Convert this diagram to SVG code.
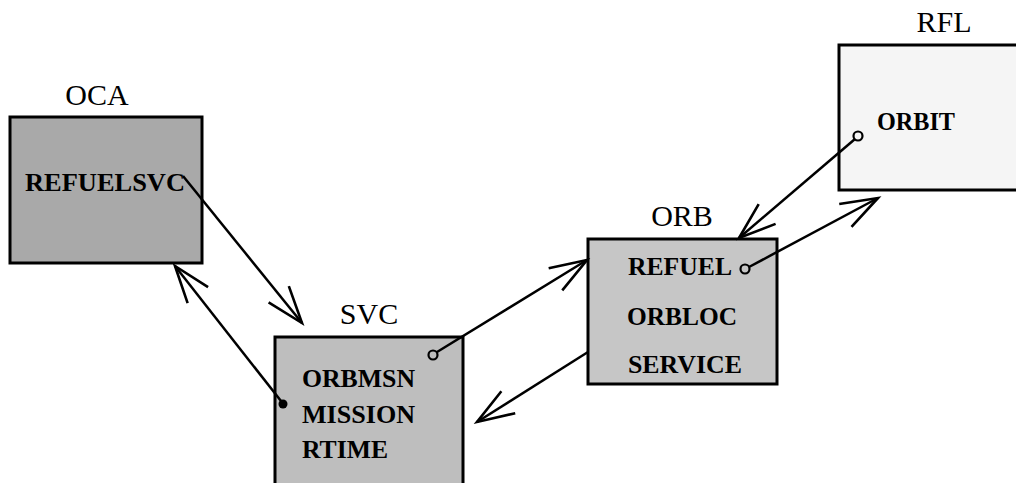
<svg xmlns="http://www.w3.org/2000/svg" width="1016" height="483" viewBox="0 0 1016 483">
<style>
.box{stroke:#000;stroke-width:3}
.title{font-family:"Liberation Serif","Times New Roman",serif;font-size:30px;fill:#000}
.item{font-family:"Liberation Serif","Times New Roman",serif;font-size:26px;font-weight:bold;fill:#000}
.conn{stroke:#000;stroke-width:2.5;fill:none;marker-end:url(#vhead)}
.port{stroke:#000;stroke-width:2.2;}
</style>
<defs>
<marker id="vhead" markerUnits="userSpaceOnUse" markerWidth="40" markerHeight="30" refX="0" refY="0" orient="auto" overflow="visible">
<path d="M-37,-13 L0,0 L-37,13" fill="none" stroke="#000" stroke-width="2.6" stroke-linejoin="miter"/>
</marker>
</defs>
<rect width="1016" height="483" fill="#fff"/>
<g id="OCA">
<text class="title" x="97" y="105" text-anchor="middle">OCA</text>
<rect class="box" x="10" y="117" width="192" height="146" fill="#a9a9a9"/>
<text class="item" x="25" y="191" textLength="160" lengthAdjust="spacingAndGlyphs">REFUELSVC</text>
</g>
<g id="SVC">
<text class="title" x="369" y="324" text-anchor="middle">SVC</text>
<rect class="box" x="275" y="337" width="188" height="170" fill="#bebebe"/>
<text class="item" x="302" y="387" textLength="113" lengthAdjust="spacingAndGlyphs">ORBMSN</text>
<text class="item" x="302" y="423" textLength="113" lengthAdjust="spacingAndGlyphs">MISSION</text>
<text class="item" x="302" y="458" textLength="86" lengthAdjust="spacingAndGlyphs">RTIME</text>
<circle class="port" cx="433" cy="355" r="4.5" fill="#bebebe"/>
<circle cx="283" cy="404" r="4.5" fill="#000"/>
</g>
<g id="ORB">
<text class="title" x="682" y="226" text-anchor="middle">ORB</text>
<rect class="box" x="588" y="239" width="189" height="145" fill="#c6c6c6"/>
<text class="item" x="628" y="275" textLength="104" lengthAdjust="spacingAndGlyphs">REFUEL</text>
<text class="item" x="627" y="325" textLength="110" lengthAdjust="spacingAndGlyphs">ORBLOC</text>
<text class="item" x="628" y="373" textLength="114" lengthAdjust="spacingAndGlyphs">SERVICE</text>
<circle class="port" cx="745" cy="269" r="4.5" fill="#c6c6c6"/>
</g>
<g id="RFL">
<text class="title" x="944" y="32" text-anchor="middle">RFL</text>
<rect class="box" x="839" y="45" width="200" height="145" fill="#f5f5f5"/>
<text class="item" x="877" y="130" textLength="78" lengthAdjust="spacingAndGlyphs">ORBIT</text>
<circle class="port" cx="858" cy="136" r="4.5" fill="#f5f5f5"/>
</g>
<g id="connectors">
<line class="conn" x1="183" y1="176" x2="302" y2="323"/>
<line class="conn" x1="281" y1="401" x2="175" y2="266"/>
<line class="conn" x1="437" y1="352" x2="587" y2="260"/>
<line class="conn" x1="588" y1="352" x2="477" y2="422"/>
<line class="conn" x1="855" y1="139" x2="739" y2="238"/>
<line class="conn" x1="749" y1="267" x2="878" y2="198"/>
</g>
</svg>
